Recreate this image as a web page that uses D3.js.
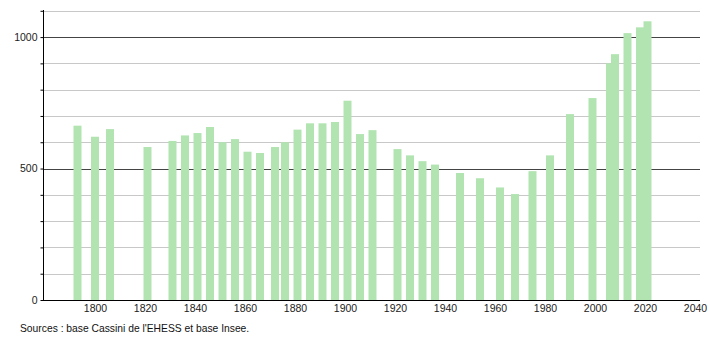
<!DOCTYPE html>
<html>
<head>
<meta charset="utf-8">
<script src="https://cdn.jsdelivr.net/npm/d3@7"></script>
<style>
	body { margin: 0; background: #fff; }
	text { font-family: "Liberation Sans", Arial, sans-serif; }
</style>
</head>
<body>
<script>
'use strict';

const params = {
	width: 710,
	height: 340,
	left: 43,
	right: 700,
	top: 10,
	bottom: 300
};

// Census years and population
const years = [1793, 1800, 1806, 1821, 1831, 1836, 1841, 1846, 1851, 1856,
	1861, 1866, 1872, 1876, 1881, 1886, 1891, 1896, 1901, 1906,
	1911, 1921, 1926, 1931, 1936, 1946, 1954, 1962, 1968, 1975,
	1982, 1990, 1999, 2006, 2008, 2013, 2018, 2021];
const population = [663, 621, 650, 582, 605, 626, 635, 658, 600, 612,
	564, 559, 582, 600, 648, 672, 672, 677, 758, 631,
	646, 574, 550, 528, 515, 483, 463, 428, 403, 490,
	550, 707, 768, 900, 935, 1015, 1037, 1060];

const yearTicks = [1800, 1820, 1840, 1860, 1880, 1900, 1920, 1940, 1960, 1980, 2000, 2020, 2040];
const gridValues = [100, 200, 300, 400, 500, 600, 700, 800, 900, 1000, 1100];
const majorTicks = [0, 500, 1000];
const source = "Sources : base Cassini de l'EHESS et base Insee.";

const data = years.map((y, i) => ({ year: y, value: population[i] }));

const svg = d3.select("body")
	.append("svg")
	.attr("width", params.width)
	.attr("height", params.height);

const xScale = d3.scaleLinear()
	.domain([1779.2, 2042])
	.range([params.left, params.right]);

const yScale = d3.scaleLinear()
	.domain([0, 1103])
	.range([params.bottom, params.top]);

// grid lines
svg.append("g")
	.selectAll("line")
	.data(gridValues)
	.join("line")
		.attr("x1", params.left)
		.attr("x2", params.right)
		.attr("y1", d => Math.round(yScale(d)) + 0.5)
		.attr("y2", d => Math.round(yScale(d)) + 0.5)
		.attr("stroke", d => d % 500 === 0 ? "#444" : "#c8c8c8")
		.attr("stroke-width", 1);

// bars
svg.append("g")
	.selectAll("rect")
	.data(data)
	.join("rect")
		.attr("x", d => xScale(d.year) - 4)
		.attr("width", 8)
		.attr("y", d => yScale(d.value))
		.attr("height", d => yScale(0) - yScale(d.value))
		.attr("fill", "#b1e4b1");

// y axis
const yAxis = svg.append("g")
	.attr("transform", `translate(${params.left + 0.5},0)`)
	.call(d3.axisLeft(yScale)
		.tickValues(d3.range(0, 1101, 100))
		.tickSize(3)
		.tickFormat(d => majorTicks.includes(d) ? d : ""));
yAxis.select(".domain").attr("d", `M0,${params.top}V${params.bottom}`);
yAxis.selectAll("text")
	.attr("font-size", 10.5)
	.attr("fill", "#222")
	.attr("font-family", "Liberation Sans, Arial, sans-serif");

// x axis
const xAxis = svg.append("g")
	.attr("transform", `translate(0,${params.bottom + 0.5})`)
	.call(d3.axisBottom(xScale)
		.tickValues(yearTicks)
		.tickSize(0)
		.tickPadding(4)
		.tickFormat(d3.format("d")));
xAxis.select(".domain").attr("d", `M${params.left},0H${params.right}`);
xAxis.selectAll("text")
	.attr("font-size", 10.5)
	.attr("fill", "#222")
	.attr("font-family", "Liberation Sans, Arial, sans-serif");

svg.append("text")
	.attr("x", 20)
	.attr("y", 332)
	.attr("font-size", 10.3)
	.attr("fill", "#111")
	.text(source);
</script>
</body>
</html>
